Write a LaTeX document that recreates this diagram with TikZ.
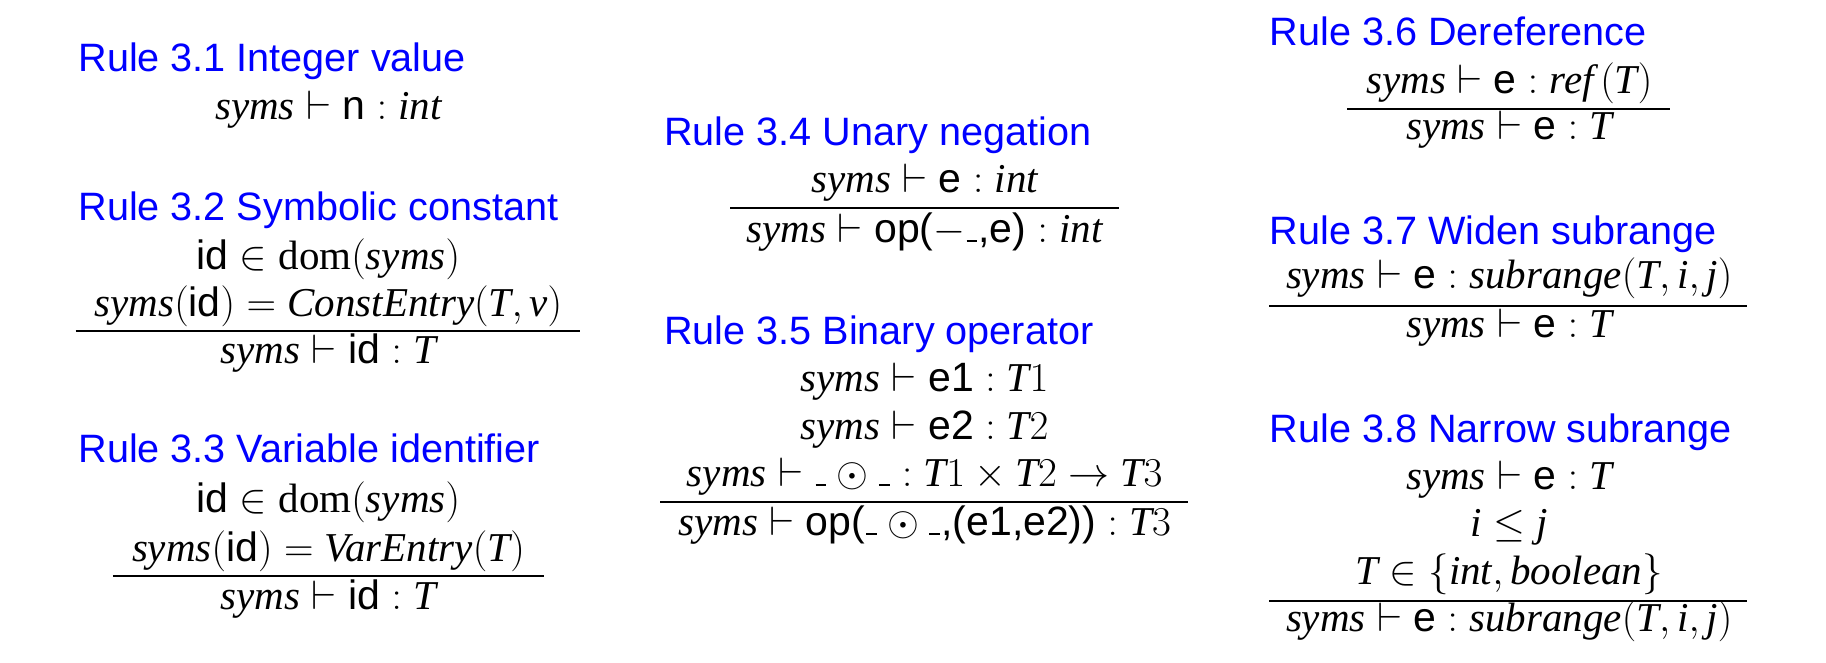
\RequirePackage{fix-cm}
\documentclass[tikz,border=0pt]{standalone}
\usepackage{amsmath}
\usepackage{fontspec}
\setmainfont{Liberation Serif}
\setsansfont{Liberation Sans}
\definecolor{ruleblue}{RGB}{0,0,255}
\newcommand{\ti}[1]{\textit{#1}}
\newcommand{\ts}[1]{\textsf{#1}}
\newcommand{\sy}{\textit{syms}}
\newcommand{\us}{\mathord{\kern0.5pt\rule[0.3pt]{4.6pt}{0.8pt}\kern0.5pt}}
\tikzset{
  ruletitle/.style={anchor=base west, inner sep=0pt, text=ruleblue, font=\sffamily\fontsize{17}{20}\selectfont},
  formula/.style={anchor=base, inner sep=0pt, font=\fontsize{17.6}{20}\selectfont},
  rulebar/.style={line width=0.85pt, black}
}
\begin{document}
\begin{tikzpicture}[x=0.5pt,y=-0.5pt]
\useasboundingbox (0,0) rectangle (1568,569.3);
% ---------- column 1 ----------
\node[ruletitle] (t31) at (67,61) {Rule 3.1 Integer value};
\node[formula] (f31) at (282,103) {$\sy \vdash \ts{n} : \ti{int}$};

\node[ruletitle] (t32) at (67,189) {Rule 3.2 Symbolic constant};
\node[formula] (p321) at (282,231) {$\ts{id} \in \textrm{dom}(\sy)$};
\node[formula] (p322) at (282,272) {$\sy(\ts{id}) = \ti{ConstEntry}(\ti{T}, \ti{v})$};
\draw[rulebar] (65,284) -- (498,284);
\node[formula] (c32) at (282,312) {$\sy \vdash \ts{id} : \ti{T}$};

\node[ruletitle] (t33) at (67,397) {Rule 3.3 Variable identifier};
\node[formula] (p331) at (282,440) {$\ts{id} \in \textrm{dom}(\sy)$};
\node[formula] (p332) at (282,482) {$\sy(\ts{id}) = \ti{VarEntry}(\ti{T})$};
\draw[rulebar] (97,495) -- (467,495);
\node[formula] (c33) at (282,523) {$\sy \vdash \ts{id} : \ti{T}$};
% ---------- column 2 ----------
\node[ruletitle] (t34) at (570,125) {Rule 3.4 Unary negation};
\node[formula] (p34) at (794,165) {$\sy \vdash \ts{e} : \ti{int}$};
\draw[rulebar] (627,179) -- (961,179);
\node[formula] (c34) at (794,208) {$\sy \vdash \ts{op(}{-}\us\ts{,e)} : \ti{int}$};

\node[ruletitle] (t35) at (570,296) {Rule 3.5 Binary operator};
\node[formula] (p351) at (794,336) {$\sy \vdash \ts{e1} : \ti{T}1$};
\node[formula] (p352) at (794,377) {$\sy \vdash \ts{e2} : \ti{T}2$};
\node[formula] (p353) at (794,418) {$\sy \vdash \us\odot\us : \ti{T}1 \times \ti{T}2 \to \ti{T}3$};
\draw[rulebar] (567,431) -- (1020,431);
\node[formula] (c35) at (794,460) {$\sy \vdash \ts{op(}\us\odot\us\ts{,(e1,e2))} : \ti{T}3$};
% ---------- column 3 ----------
\node[ruletitle] (t36) at (1090,39) {Rule 3.6 Dereference};
\node[formula] (p36) at (1296,80) {$\sy \vdash \ts{e} : \ti{ref}\,(\ti{T})$};
\draw[rulebar] (1157,94) -- (1434,94);
\node[formula] (c36) at (1296,120) {$\sy \vdash \ts{e} : \ti{T}$};

\node[ruletitle] (t37) at (1090,210) {Rule 3.7 Widen subrange};
\node[formula] (p37) at (1296,248) {$\sy \vdash \ts{e} : \ti{subrange}(\ti{T}, \ti{i}, \ti{j})$};
\draw[rulebar] (1090,263) -- (1500,263);
\node[formula] (c37) at (1296,290) {$\sy \vdash \ts{e} : \ti{T}$};

\node[ruletitle] (t38) at (1090,380) {Rule 3.8 Narrow subrange};
\node[formula] (p381) at (1296,420) {$\sy \vdash \ts{e} : \ti{T}$};
\node[formula] (p382) at (1296,461) {$\ti{i} \leq \ti{j}$};
\node[formula] (p383) at (1296,502) {$\ti{T} \in \{\ti{int}, \ti{boolean}\}$};
\draw[rulebar] (1090,516) -- (1500,516);
\node[formula] (c38) at (1296,542) {$\sy \vdash \ts{e} : \ti{subrange}(\ti{T}, \ti{i}, \ti{j})$};
\end{tikzpicture}
\end{document}
